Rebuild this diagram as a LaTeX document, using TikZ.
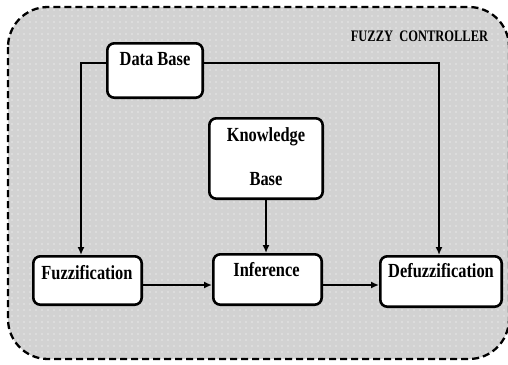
\documentclass[tikz,border=0pt]{standalone}
\usepackage{fontspec}
\setmainfont{Liberation Serif}[FakeStretch=0.82]
\newfontfamily\titlefont{Liberation Serif}[FakeStretch=0.78]
\usetikzlibrary{arrows.meta,patterns.meta}

\begin{document}
\begin{tikzpicture}[x=1pt,y=-1pt,
  blockbox/.style={draw=black, line width=2.6pt, rounded corners=7pt,
    fill=white, inner sep=0pt},
  blocktext/.style={font=\bfseries\fontsize{20}{20}\selectfont,
    inner sep=0pt, anchor=base},
  link/.style={draw=black, line width=1.8pt,
    -{Latex[length=8pt,width=7pt]}},
  frame/.style={draw=black, line width=2.3pt,
    dash pattern=on 7pt off 4pt, rounded corners=40pt}]

  \useasboundingbox (0,0) rectangle (508,364);
  \clip (0,0) rectangle (508,364);
  \fill[white] (0,0) rectangle (508,364);

  % controller area: grey with a fine grid of white dots
  \fill[gray!35, rounded corners=40pt] (8,7) rectangle (509,359);
  \fill[pattern={Dots[distance=6pt,radius=0.7pt]}, pattern color=white,
    rounded corners=40pt] (8,7) rectangle (509,359);
  \draw[frame] (8,7) rectangle (509,359);

  \node[font=\titlefont\bfseries\fontsize{16}{16}\selectfont,
    inner sep=0pt, anchor=base] (title) at (419.5,41)
    {FUZZY\ \ CONTROLLER};

  % blocks
  \node[blockbox, minimum width=95.4pt, minimum height=54.4pt] (db) at (155,70.5) {};
  \node[blockbox, minimum width=113.4pt, minimum height=80.4pt] (kb) at (266,158.5) {};
  \node[blockbox, minimum width=108.4pt, minimum height=48.4pt] (fz) at (87.5,280.5) {};
  \node[blockbox, minimum width=108.4pt, minimum height=50.4pt] (inf) at (267.5,279.5) {};
  \node[blockbox, minimum width=121.4pt, minimum height=50.4pt] (df) at (441,281.5) {};

  % block captions
  \node[blocktext] (dbt) at (155,65) {Data Base};
  \node[blocktext] (kbt1) at (266,141) {Knowledge};
  \node[blocktext] (kbt2) at (266,185) {Base};
  \node[blocktext] (fzt) at (87,279) {Fuzzification};
  \node[blocktext] (inft) at (266.5,276) {Inference};
  \node[blocktext] (dft) at (441,277) {Defuzzification};

  % routing points
  \coordinate (lft) at (81,63);
  \coordinate (rgt) at (439,63);
  \coordinate (mid) at (266,285);

  % connectors
  \draw[link] (db.west |- lft) -| (fz.north -| lft);
  \draw[link] (db.east |- rgt) -| (df.north -| rgt);
  \draw[link] (kb.south -| mid) -- (inf.north -| mid);
  \draw[link] (fz.east |- mid) -- (inf.west |- mid);
  \draw[link] (inf.east |- mid) -- (df.west |- mid);
\end{tikzpicture}
\end{document}
